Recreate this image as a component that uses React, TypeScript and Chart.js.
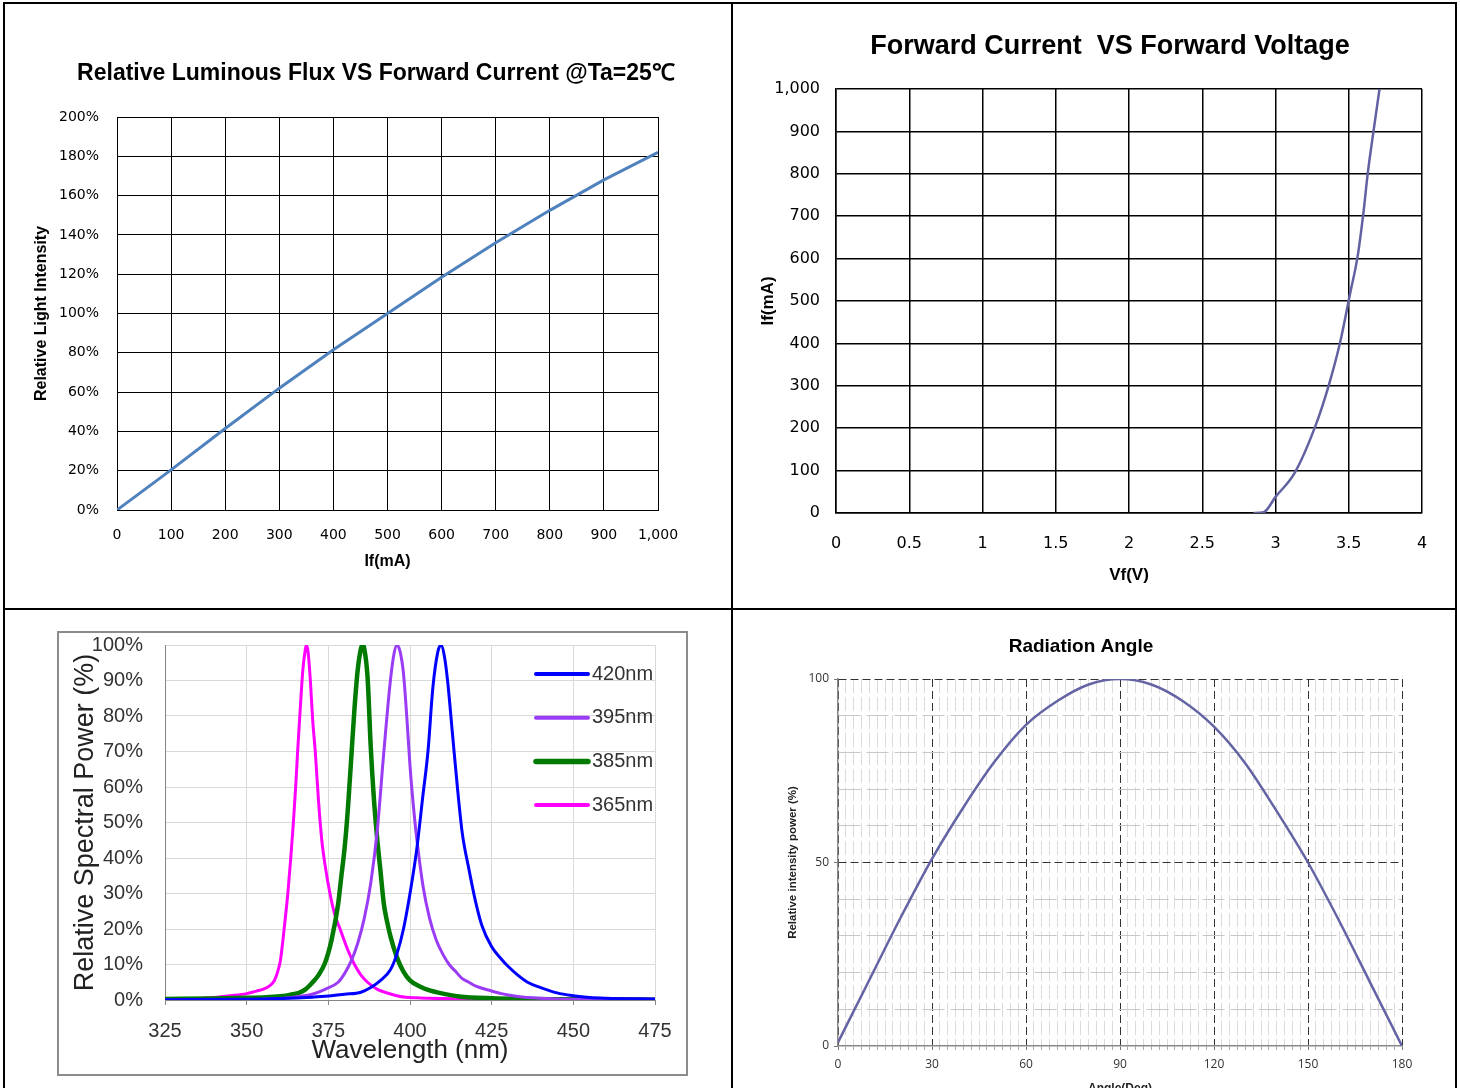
import React, { useEffect, useRef } from 'react';
import { Chart, registerables } from 'chart.js';

Chart.register(...registerables);

// ---------- Chart 1: Relative Luminous Flux VS Forward Current ----------
const fluxCurrentMa = [0, 100, 200, 300, 400, 500, 600, 700, 800, 900, 1000];
const fluxRelativePct = [0, 20.4, 41.5, 62, 81.5, 100, 118.5, 136, 152.5, 168, 182];

// ---------- Chart 2: Forward Current VS Forward Voltage ----------
const ivVoltage = [2.85, 2.92, 3.0, 3.13, 3.27, 3.36, 3.44, 3.51, 3.56, 3.6, 3.63, 3.67, 3.71];
const ivCurrentMa = [0, 2, 38, 94, 203, 297, 401, 519, 604, 708, 802, 903, 1000];

// ---------- Chart 3: Relative Spectral Power ----------
const spectrumLabels = ['420nm', '395nm', '385nm', '365nm'];
const blueNm = [325, 350, 360, 370, 375, 380, 385, 388, 391, 394, 396, 398, 400, 402, 404, 405.5, 407, 408.5, 409.5, 410.5, 411.5, 413, 414.5, 416, 418, 420, 422, 425, 428, 430, 433, 436, 440, 445, 450, 455, 460, 475];
const bluePct = [0.1, 0.2, 0.4, 0.8, 1.1, 1.6, 2.2, 3.5, 5.5, 8.5, 13, 20, 30, 42, 58, 70, 88, 98, 100, 97, 90, 75, 60, 47, 37, 28, 21, 15, 11.5, 9.5, 7, 5, 3.5, 2, 1.2, 0.7, 0.5, 0.3];
const purpleNm = [325, 350, 360, 366, 370, 374, 378, 380, 382, 384, 386, 388, 390, 392, 394, 395, 396, 397, 398, 399, 400, 401, 402, 404, 406, 408, 410, 412, 414, 416, 418, 420, 424, 428, 433, 440, 450, 475];
const purplePct = [0, 0.1, 0.4, 1, 1.6, 3, 5, 7.5, 11, 16, 23, 33, 48, 70, 90, 97, 100, 98, 92, 80, 66, 55, 46, 32, 23, 17, 13, 10, 8, 6, 5, 4, 2.8, 1.8, 1, 0.5, 0.2, 0.1];
const greenNm = [325, 340, 350, 356, 361, 364, 366, 368, 370, 372, 374, 376, 378, 379, 380, 381, 382, 383, 384, 385, 385.5, 386, 387, 388, 389, 390, 391, 392, 393, 394, 396, 398, 400, 403, 406, 409, 415, 425, 450, 475];
const greenPct = [0.3, 0.4, 0.6, 0.8, 1.1, 1.6, 2, 3, 4.8, 7, 10.5, 17, 27, 35, 43, 54, 68, 82, 93, 99, 100, 99, 91, 71, 56, 45, 36, 27, 22, 18, 12, 8, 5.5, 3.8, 2.7, 2, 1, 0.5, 0.2, 0.1];
const magentaNm = [325, 330, 335, 340, 345, 350, 353, 355.5, 357, 358.5, 359.5, 360.3, 361, 361.7, 362.6, 363.5, 364.3, 365, 365.6, 366.4, 367.2, 368, 368.3, 368.8, 369.5, 370.2, 371, 372, 373, 374, 375.5, 377, 378.6, 381, 383, 385, 387, 390, 393, 397, 402, 406, 420, 475];
const magentaPct = [0.2, 0.3, 0.4, 0.7, 1.2, 1.8, 2.5, 3.2, 4, 5.5, 8, 11, 16, 22, 30, 40, 50, 60, 70, 82, 93, 99, 100, 98, 90, 79, 70, 56, 45, 38, 30, 24, 20, 14, 10, 7, 5, 3, 2, 1, 0.6, 0.5, 0.3, 0.2];

// ---------- Chart 4: Radiation Angle ----------
const angleDeg = [0, 10, 20, 30, 40, 50, 60, 70, 80, 90, 100, 110, 120, 130, 140, 150, 160, 170, 180];
const angleIntensityPct = [1, 18, 35, 51, 65, 77.5, 87.5, 94, 98.5, 100, 98.5, 94, 87, 77, 64, 50, 34, 17, 0];

const toPoints = (xs: number[], ys: number[]) => xs.map((x, i) => ({ x, y: ys[i] }));

const panelTitle = {
  id: 'panelTitle',
  afterDraw(chart: any, _args: any, opts: any) {
    if (!opts || !opts.text) return;
    const ctx = chart.ctx;
    ctx.save();
    ctx.font = opts.font;
    ctx.fillStyle = opts.color || '#000';
    ctx.textAlign = 'center';
    ctx.textBaseline = 'middle';
    ctx.fillText(opts.text, opts.x, opts.y);
    ctx.restore();
  },
};

const insideLegend = {
  id: 'insideLegend',
  afterDraw(chart: any, _args: any, opts: any) {
    const { ctx, chartArea } = chart;
    ctx.save();
    ctx.font = opts.font;
    ctx.textBaseline = 'middle';
    ctx.textAlign = 'left';
    chart.data.datasets.forEach((ds: any, i: number) => {
      const y = chartArea.top + opts.firstOffset + i * opts.spacing;
      const x0 = chartArea.right - opts.lineStart;
      const x1 = chartArea.right - opts.lineEnd;
      ctx.strokeStyle = ds.borderColor;
      ctx.lineWidth = ds.borderWidth + 1;
      ctx.lineCap = 'round';
      ctx.beginPath();
      ctx.moveTo(x0, y);
      ctx.lineTo(x1, y);
      ctx.stroke();
      ctx.fillStyle = opts.color;
      ctx.fillText(ds.label, x1 + opts.gap, y);
    });
    ctx.restore();
  },
};

const base = {
  responsive: false,
  animation: false,
  devicePixelRatio: 1,
  events: [],
};

function fluxConfig(): any {
  return {
    type: 'line',
    data: {
      datasets: [{
        data: toPoints(fluxCurrentMa, fluxRelativePct),
        borderColor: '#4F81BD', borderWidth: 3, pointRadius: 0, tension: 0, fill: false,
      }],
    },
    options: {
      ...base,
      layout: { padding: { left: 20, right: 72, top: 112, bottom: 0 } },
      plugins: {
        legend: { display: false }, tooltip: { enabled: false },
        panelTitle: { text: 'Relative Luminous Flux VS Forward Current @Ta=25℃', font: 'bold 23px "Liberation Sans"', x: 371, y: 69 },
      },
      scales: {
        x: {
          type: 'linear', min: 0, max: 1000,
          ticks: { stepSize: 100, autoSkip: false, maxRotation: 0, padding: 16.6, color: '#000',
            font: { family: 'DejaVu Sans', size: 14 }, callback: (v: number) => v.toLocaleString('en-US') },
          grid: { color: '#000', lineWidth: 1, drawTicks: false },
          border: { color: '#000', width: 1 },
          title: { display: true, text: 'If(mA)', color: '#000', font: { family: 'Liberation Sans', size: 16, weight: 'bold' }, padding: { top: 0, bottom: 33.4 } },
          afterFit: (s: any) => { s.height = 95; },
        },
        y: {
          type: 'linear', min: 0, max: 200,
          ticks: { stepSize: 20, autoSkip: false, padding: 18, color: '#000',
            font: { family: 'DejaVu Sans', size: 14 }, callback: (v: number) => v + '%' },
          grid: { color: '#000', lineWidth: 1, drawTicks: false },
          border: { color: '#000', width: 1 },
          title: { display: true, text: 'Relative Light Intensity', color: '#000', font: { family: 'Liberation Sans', size: 16, weight: 'bold' }, padding: { top: 7.4, bottom: 0 } },
          afterFit: (s: any) => { s.width = 92; },
        },
      },
    },
    plugins: [panelTitle],
  };
}

function ivConfig(): any {
  return {
    type: 'line',
    data: {
      datasets: [{
        data: toPoints(ivVoltage, ivCurrentMa),
        borderColor: '#6262A2', borderWidth: 2.5, pointRadius: 0, cubicInterpolationMode: 'monotone', fill: false,
      }],
    },
    options: {
      ...base,
      layout: { padding: { left: 15, right: 33, top: 84, bottom: 0 } },
      plugins: {
        legend: { display: false }, tooltip: { enabled: false },
        panelTitle: { text: 'Forward Current  VS Forward Voltage', font: 'bold 27px "Liberation Sans"', x: 377, y: 42 },
      },
      scales: {
        x: {
          type: 'linear', min: 0, max: 4,
          ticks: { stepSize: 0.5, autoSkip: false, maxRotation: 0, padding: 21.4, color: '#000',
            font: { family: 'DejaVu Sans', size: 16 }, callback: (v: number) => String(v) },
          grid: { color: '#000', lineWidth: 1.5, drawTicks: false },
          border: { color: '#000', width: 1.5 },
          title: { display: true, text: 'Vf(V)', color: '#000', font: { family: 'Liberation Sans', size: 17, weight: 'bold' }, padding: { top: 0, bottom: 19.8 } },
          afterFit: (s: any) => { s.height = 92; },
        },
        y: {
          type: 'linear', min: 0, max: 1000,
          ticks: { stepSize: 100, autoSkip: false, padding: 16, color: '#000',
            font: { family: 'DejaVu Sans', size: 16 }, callback: (v: number) => v.toLocaleString('en-US') },
          grid: { color: '#000', lineWidth: 1.5, drawTicks: false },
          border: { color: '#000', width: 1.5 },
          title: { display: true, text: 'If(mA)', color: '#000', font: { family: 'Liberation Sans', size: 17, weight: 'bold' }, padding: { top: 9.8, bottom: 0 } },
          afterFit: (s: any) => { s.width = 88; },
        },
      },
    },
    plugins: [panelTitle],
  };
}

function spectrumConfig(): any {
  const common = { pointRadius: 0, fill: false, cubicInterpolationMode: 'monotone' };
  return {
    type: 'line',
    data: {
      datasets: [
        { label: spectrumLabels[0], data: toPoints(blueNm, bluePct), borderColor: '#0000FF', borderWidth: 3, ...common },
        { label: spectrumLabels[1], data: toPoints(purpleNm, purplePct), borderColor: '#9B3CF5', borderWidth: 3, ...common },
        { label: spectrumLabels[2], data: toPoints(greenNm, greenPct), borderColor: '#007A00', borderWidth: 4.5, ...common },
        { label: spectrumLabels[3], data: toPoints(magentaNm, magentaPct), borderColor: '#FF00FF', borderWidth: 3, ...common },
      ],
    },
    options: {
      ...base,
      layout: { padding: { left: 8, right: 31, top: 12, bottom: 0 } },
      plugins: {
        legend: { display: false }, tooltip: { enabled: false },
        insideLegend: { font: '20px "Liberation Sans"', color: '#333', firstOffset: 29, spacing: 43.7, lineStart: 119, lineEnd: 67, gap: 4 },
      },
      scales: {
        x: {
          type: 'linear', min: 325, max: 475,
          ticks: { stepSize: 25, autoSkip: false, maxRotation: 0, padding: 14, color: '#333',
            font: { family: 'Liberation Sans', size: 20 } },
          grid: { color: '#D9D9D9', lineWidth: 1, drawTicks: true, tickLength: 5, tickColor: '#868686' },
          border: { color: '#868686', width: 1 },
          title: { display: true, text: 'Wavelength (nm)', color: '#222', font: { family: 'Liberation Sans', size: 26 }, padding: { top: 0, bottom: 7.4 } },
          afterFit: (s: any) => { s.height = 74; s.paddingLeft = 0; s.paddingRight = 0; },
        },
        y: {
          type: 'linear', min: 0, max: 100,
          ticks: { stepSize: 10, autoSkip: false, padding: 22, color: '#333',
            font: { family: 'Liberation Sans', size: 20 }, callback: (v: number) => v + '%' },
          grid: { color: '#D9D9D9', lineWidth: 1, drawTicks: false },
          border: { color: '#868686', width: 1 },
          title: { display: true, text: 'Relative Spectral Power (%)', color: '#222', font: { family: 'Liberation Sans', size: 27 }, padding: { top: 2.2, bottom: 0 } },
          afterFit: (s: any) => { s.width = 98; s.paddingTop = 0; s.paddingBottom = 0; },
        },
      },
    },
    plugins: [insideLegend],
  };
}

const isMult = (v: any, m: number) => typeof v === 'number' && Math.abs(v / m - Math.round(v / m)) < 1e-6;

function angleConfig(): any {
  return {
    type: 'line',
    data: {
      datasets: [{
        data: toPoints(angleDeg, angleIntensityPct),
        borderColor: '#6464A4', borderWidth: 2.5, pointRadius: 0, cubicInterpolationMode: 'monotone', fill: false,
      }],
    },
    options: {
      ...base,
      layout: { padding: { left: 45, right: 53, top: 68, bottom: 0 } },
      plugins: {
        legend: { display: false }, tooltip: { enabled: false },
        panelTitle: { text: 'Radiation Angle', font: 'bold 19px "Liberation Sans"', x: 348, y: 36 },
      },
      scales: {
        x: {
          type: 'linear', min: 0, max: 180,
          ticks: { stepSize: 2.5, autoSkip: false, maxRotation: 0, padding: 7.8, color: '#333',
            font: { family: 'Open Sans', size: 12 }, callback: (v: number) => (isMult(v, 30) ? String(v) : '') },
          grid: {
            lineWidth: 1, drawTicks: true, tickLength: 4,
            color: (c: any) => (c.tick && isMult(c.tick.value, 30) ? '#333' : '#DCDCDC'),
            tickColor: (c: any) => (c.tick && isMult(c.tick.value, 30) ? '#777' : '#AAA'),
          },
          border: { color: '#8A8A8A', width: 1.5, dash: (c: any) => (c.tick && isMult(c.tick.value, 30) ? [8, 4] : [14, 4]) },
          title: { display: true, text: 'Angle(Deg)', color: '#222', font: { family: 'Liberation Sans', size: 12, weight: 'bold' }, padding: { top: 0, bottom: 14.8 } },
          afterFit: (s: any) => { s.height = 65; },
        },
        y: {
          type: 'linear', min: 0, max: 100,
          ticks: { stepSize: 10, autoSkip: false, padding: 5, color: '#333',
            font: { family: 'Open Sans', size: 12 }, callback: (v: number) => (isMult(v, 50) ? String(v) : '') },
          grid: {
            lineWidth: 1, drawTicks: true, tickLength: 4,
            color: (c: any) => {
              const v = c.tick ? c.tick.value : -1;
              if (v === 0) return 'rgba(0,0,0,0)';
              return isMult(v, 50) ? '#333' : '#C8C8C8';
            },
            tickColor: (c: any) => (c.tick && isMult(c.tick.value, 50) ? '#777' : 'rgba(0,0,0,0)'),
          },
          border: { color: '#8A8A8A', width: 1.5, dash: (c: any) => (c.tick && isMult(c.tick.value, 50) ? [8, 4] : [22, 6]) },
          title: { display: true, text: 'Relative intensity power (%)', color: '#222', font: { family: 'Liberation Sans', size: 11.5, weight: 'bold' }, padding: { top: 8.1, bottom: 0 } },
          afterFit: (s: any) => { s.width = 60; },
        },
      },
    },
    plugins: [panelTitle],
  };
}

function ChartCanvas({ left, top, width, height, build }: any) {
  const ref = useRef<HTMLCanvasElement>(null);
  useEffect(() => {
    const chart = new Chart(ref.current as HTMLCanvasElement, build());
    return () => chart.destroy();
  }, []);
  return (
    <canvas ref={ref} width={width} height={height}
      style={{ position: 'absolute', left, top, width, height }} />
  );
}

const line = (left: number, top: number, width: number, height: number, color = '#000') => (
  <div style={{ position: 'absolute', left, top, width, height, background: color }} />
);

export default function App() {
  return (
    <div style={{ position: 'fixed', left: 0, top: 0, width: 1460, height: 1088, overflow: 'hidden', background: '#fff' }}>
      <ChartCanvas left={5} top={5} width={725} height={600} build={fluxConfig} />
      <ChartCanvas left={733} top={5} width={722} height={600} build={ivConfig} />
      <div style={{ position: 'absolute', left: 57, top: 631, width: 631, height: 445, border: '2px solid #8C8C8C', boxSizing: 'border-box' }} />
      <ChartCanvas left={59} top={633} width={627} height={441} build={spectrumConfig} />
      <ChartCanvas left={733} top={611} width={722} height={500} build={angleConfig} />
      {line(3, 2, 1454, 2)}
      {line(3, 2, 2, 1086)}
      {line(1455, 2, 2, 1086)}
      {line(731, 2, 2, 1086)}
      {line(3, 608, 1454, 2)}
    </div>
  );
}
